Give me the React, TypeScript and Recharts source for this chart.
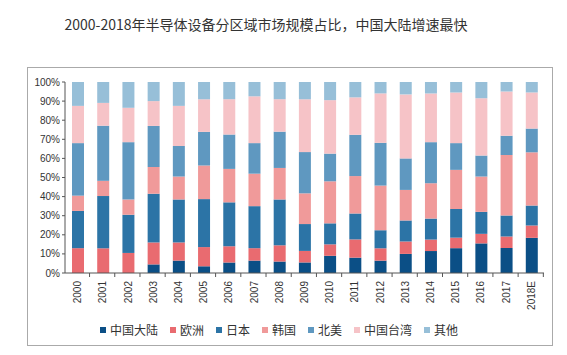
import { BarChart, Bar, XAxis, YAxis } from "recharts";

const years = ["2000", "2001", "2002", "2003", "2004", "2005", "2006", "2007", "2008", "2009", "2010", "2011", "2012", "2013", "2014", "2015", "2016", "2017", "2018E"];

const mainland = [0, 0, 0, 4.5, 6.5, 3.5, 5.5, 6.5, 6, 5.5, 9, 8, 6.5, 10, 11.5, 13, 15.5, 13, 18.5];
const europe = [13, 13, 10.5, 11.5, 9.5, 10, 8.5, 6.5, 8.5, 6, 6, 9.5, 6.5, 6.5, 6, 5.5, 5, 6, 6.5];
const japan = [19.5, 27.5, 20, 25.5, 22.5, 25, 23, 22, 24, 14, 11, 13.5, 9.5, 11, 11, 15, 11.5, 11, 10.5];
const korea = [8, 8, 8, 14, 12, 17.5, 17.5, 17, 16.5, 16, 22, 19.5, 23.5, 16, 18.5, 20.5, 18.5, 31.5, 28];
const northAmerica = [27.5, 29, 30, 21.5, 16, 17.5, 18, 16, 19, 21.5, 14.5, 21.5, 22.5, 16.5, 21.5, 14, 11, 10, 12.5];
const taiwan = [19.5, 12, 18, 13, 21, 17, 18.5, 24.5, 17, 27.5, 28, 19.5, 26, 33.5, 25.5, 26.5, 30, 23, 19];
const others = [12.5, 11, 13.5, 10, 12.5, 9, 9, 7.5, 9, 9, 9.5, 8, 6, 6.5, 6, 5.5, 8.5, 5, 5.5];

const yTicks = [0, 0.1, 0.2, 0.3, 0.4, 0.5, 0.6, 0.7, 0.8, 0.9, 1];

const series = [
  { key: "mainland", name: "中国大陆", color: "#0b4f86", values: mainland },
  { key: "europe", name: "欧洲", color: "#e96b70", values: europe },
  { key: "japan", name: "日本", color: "#2c74a6", values: japan },
  { key: "korea", name: "韩国", color: "#f09a9a", values: korea },
  { key: "northAmerica", name: "北美", color: "#5f98c0", values: northAmerica },
  { key: "taiwan", name: "中国台湾", color: "#f6c3c7", values: taiwan },
  { key: "others", name: "其他", color: "#97bfd8", values: others },
];

const data = years.map((year, i) => {
  const row: Record<string, string | number> = { year };
  series.forEach((s) => {
    row[s.key] = s.values[i];
  });
  return row;
});

const BAND = 454 / years.length;

const YearTick = (props: any) => {
  const { x, y, payload } = props;
  return (
    <g transform={`translate(${x},${y})`}>
      <line x1={BAND / 2} y1={0} x2={BAND / 2} y2={4} stroke="#555" />
      <text
        transform="rotate(-90)"
        x={-8}
        y={0}
        dy="0.35em"
        textAnchor="end"
        fontSize={10}
        fontFamily="Liberation Sans, Arial, sans-serif"
        fill="#333"
      >
        {payload.value}
      </text>
    </g>
  );
};

export default function App() {
  return (
    <div style={{ position: "absolute", left: 0, top: 0, width: 567, height: 355, background: "#fff" }}>
      <div
        style={{
          position: "absolute",
          top: 14,
          left: 0,
          width: 532,
          textAlign: "center",
          fontSize: 14,
          fontFamily: "Noto Sans CJK SC, sans-serif",
          color: "#333",
          lineHeight: "20px",
        }}
      >
        2000-2018年半导体设备分区域市场规模占比，中国大陆增速最快
      </div>
      <div
        style={{
          position: "absolute",
          left: 27,
          top: 67,
          width: 524,
          height: 277,
          border: "1.5px solid #aaa",
        }}
      />
      <div style={{ position: "absolute", left: 0, top: 0 }}>
        <BarChart
          width={567}
          height={355}
          data={data}
          stackOffset="expand"
          barSize={12}
          margin={{ top: 82, right: 23, left: 20, bottom: 0 }}
        >
          <XAxis
            dataKey="year"
            height={82}
            interval={0}
            tickLine={false}
            tickSize={0}
            tickMargin={0}
            stroke="#555"
            tick={<YearTick />}
          />
          <YAxis
            width={45}
            domain={[0, 1]}
            ticks={yTicks}
            tickFormatter={(v: number) => `${Math.round(v * 100)}%`}
            tickSize={3}
            stroke="#555"
            tick={{ fontSize: 10, fill: "#333", fontFamily: "Liberation Sans, Arial, sans-serif" }}
          />
          {series.map((s) => (
            <Bar key={s.key} dataKey={s.key} name={s.name} stackId="a" fill={s.color} isAnimationActive={false} />
          ))}
        </BarChart>
      </div>
      <div
        style={{
          position: "absolute",
          top: 322,
          left: 100,
          display: "flex",
          alignItems: "center",
          fontSize: 12,
          fontFamily: "Noto Sans CJK SC, sans-serif",
          color: "#333",
          lineHeight: "16px",
        }}
      >
        {series.map((s) => (
          <div key={s.key} style={{ display: "flex", alignItems: "center", marginRight: 12 }}>
            <span style={{ width: 6, height: 6, background: s.color, marginRight: 4, display: "inline-block" }} />
            {s.name}
          </div>
        ))}
      </div>
    </div>
  );
}
